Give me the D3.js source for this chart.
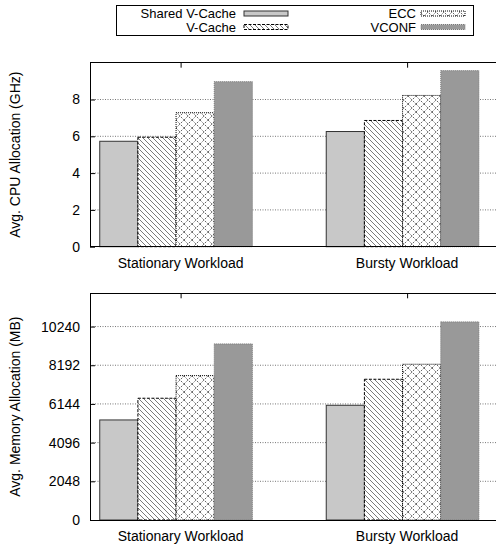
<!DOCTYPE html>
<html>
<head>
<meta charset="utf-8">
<script src="https://cdn.jsdelivr.net/npm/d3@7"></script>
<style>
  body { margin: 0; background: #fff; }
  svg text { font-family: "Liberation Sans", Arial, sans-serif; font-size: 14px; fill: #000; }
</style>
</head>
<body>
<div class="chart"></div>
<script>
// values
const categories = ['Stationary Workload', 'Bursty Workload'];
const series = ['Shared V-Cache', 'V-Cache', 'ECC', 'VCONF'];

const cpuStationary = [5.73, 5.95, 7.28, 8.97];
const cpuBursty = [6.26, 6.86, 8.22, 9.57];
const cpuTicks = [0, 2, 4, 6, 8];

const memStationary = [5296, 6445, 7643, 9321];
const memBursty = [6073, 7450, 8245, 10487];
const memTicks = [0, 2048, 4096, 6144, 8192, 10240];

const width = 496, height = 546;

const svg = d3.select('.chart')
    .append('svg')
    .attr('width', width)
    .attr('height', height);

const defs = svg.append('defs');

// diagonal hatch for V-Cache
const hatch = defs.append('pattern')
    .attr('id', 'hatch')
    .attr('patternUnits', 'userSpaceOnUse')
    .attr('width', 5)
    .attr('height', 5);
hatch.append('rect').attr('width', 5).attr('height', 5).attr('fill', '#fff');
hatch.append('path')
    .attr('d', 'M0,0L5,5M-1,4L1,6M4,-1L6,1')
    .attr('stroke', '#222')
    .attr('stroke-width', 0.6);

// dotted cross hatch for ECC
const cross = defs.append('pattern')
    .attr('id', 'cross')
    .attr('patternUnits', 'userSpaceOnUse')
    .attr('width', 8)
    .attr('height', 8);
cross.append('rect').attr('width', 8).attr('height', 8).attr('fill', '#fff');
cross.append('path')
    .attr('d', 'M0,0L8,8M0,8L8,0')
    .attr('stroke', '#111')
    .attr('stroke-width', 0.9)
    .attr('stroke-dasharray', '1,1.4');

const styles = {
    'Shared V-Cache': {fill: '#c8c8c8', stroke: '#333', dash: null},
    'V-Cache': {fill: 'url(#hatch)', stroke: '#000', dash: '3,1.5'},
    'ECC': {fill: 'url(#cross)', stroke: '#000', dash: '1,1'},
    'VCONF': {fill: '#999', stroke: '#777', dash: '1,1'}
};

// shared x: category index in data units
const x = d3.scaleLinear().domain([-0.4, 1.4]).range([90, 90 + 1.8 * 226.5]);
const inner = d3.scaleBand().domain(series).range([-0.357, 0.317]);

function panel(top, bottom, yMax, ticks, rows, label) {
    const y = d3.scaleLinear().domain([0, yMax]).range([bottom, top]);
    const g = svg.append('g');
    const right = x.range()[1];

    // dotted grid
    g.selectAll('.grid')
        .data(ticks.filter(t => t > 0))
        .enter()
        .append('line')
        .attr('x1', x.range()[0])
        .attr('x2', right)
        .attr('y1', d => y(d))
        .attr('y2', d => y(d))
        .attr('stroke', '#777')
        .attr('stroke-dasharray', '1,1.5');

    const data = [];
    rows.forEach((vals, i) => vals.forEach((v, j) => data.push({cat: i, s: series[j], v: v})));

    g.selectAll('rect.bar')
        .data(data)
        .enter()
        .append('rect')
        .attr('class', 'bar')
        .attr('x', d => x(d.cat + inner(d.s)))
        .attr('width', x(inner.bandwidth()) - x(0))
        .attr('y', d => y(d.v))
        .attr('height', d => y(0) - y(d.v))
        .attr('fill', d => styles[d.s].fill)
        .attr('stroke', d => styles[d.s].stroke)
        .attr('stroke-dasharray', d => styles[d.s].dash);

    // frame
    g.append('rect')
        .attr('x', x.range()[0])
        .attr('y', top)
        .attr('width', right - x.range()[0])
        .attr('height', bottom - top)
        .attr('fill', 'none')
        .attr('stroke', '#000')
        .attr('shape-rendering', 'crispEdges');

    const yAxis = d3.axisLeft(y)
        .tickValues(ticks)
        .tickSize(-5)
        .tickPadding(10)
        .tickFormat(d3.format('d'));
    const ya = g.append('g')
        .attr('transform', `translate(${x.range()[0]},0)`)
        .call(yAxis);
    ya.select('.domain').remove();
    ya.selectAll('text').style('font-size', '14px');

    const xAxis = d3.axisTop(x)
        .tickValues([0, 1])
        .tickSize(-5)
        .tickFormat('');
    const xa = g.append('g')
        .attr('transform', `translate(0,${top})`)
        .call(xAxis);
    xa.select('.domain').remove();

    g.selectAll('.cat')
        .data(categories)
        .enter()
        .append('text')
        .attr('x', (d, i) => x(i))
        .attr('y', bottom + 21)
        .attr('text-anchor', 'middle')
        .text(d => d);

    g.append('text')
        .attr('transform', `translate(20,${(top + bottom) / 2}) rotate(-90)`)
        .attr('text-anchor', 'middle')
        .text(label);
}

panel(62.7, 246.7, 10, cpuTicks, [cpuStationary, cpuBursty], 'Avg. CPU Allocation (GHz)');
panel(293.3, 520, 12000, memTicks, [memStationary, memBursty], 'Avg. Memory Allocation (MB)');

// legend
const legend = svg.append('g');
legend.append('rect')
    .attr('x', 116)
    .attr('y', 5.5)
    .attr('width', 357)
    .attr('height', 30)
    .attr('fill', '#fff')
    .attr('stroke', '#000')
    .attr('shape-rendering', 'crispEdges');

const legendPos = [
    {tx: 236, sx: 244, y: 13.5},
    {tx: 236, sx: 244, y: 27},
    {tx: 416, sx: 421, y: 13.5},
    {tx: 416, sx: 421, y: 27}
];

series.forEach((s, i) => {
    const p = legendPos[i];
    legend.append('text')
        .attr('x', p.tx)
        .attr('y', p.y + 4.5)
        .attr('text-anchor', 'end')
        .style('font-size', '13px')
        .text(s);
    legend.append('rect')
        .attr('x', p.sx)
        .attr('y', p.y - 2.5)
        .attr('width', 44)
        .attr('height', 5)
        .attr('fill', styles[s].fill)
        .attr('stroke', styles[s].stroke)
        .attr('stroke-dasharray', styles[s].dash);
});
</script>
</body>
</html>
